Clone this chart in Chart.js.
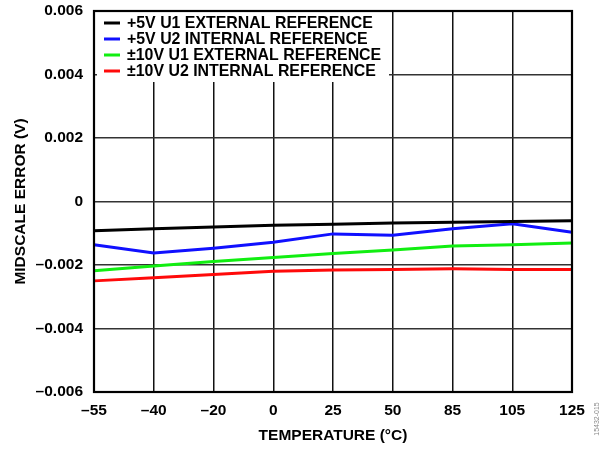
<!DOCTYPE html>
<html>
<head>
<meta charset="utf-8">
<script src="https://cdn.jsdelivr.net/npm/chart.js@4"></script>
<style>
  html, body { margin: 0; padding: 0; background: #fff; }
  #wrap { width: 600px; height: 452px; }
</style>
</head>
<body>
<div id="wrap"><canvas id="c" width="600" height="452"></canvas></div>
<script>
// Temperature categories (°C) and midscale error (V) per configuration
const temperatures = ['–55', '–40', '–20', '0', '25', '50', '85', '105', '125'];
const u1External5V  = [-0.00092, -0.00086, -0.00080, -0.00075, -0.00072, -0.00068, -0.00065, -0.00063, -0.00061];
const u2Internal5V  = [-0.00136, -0.00162, -0.00147, -0.00128, -0.00102, -0.00106, -0.00086, -0.00070, -0.00097];
const u1External10V = [-0.00218, -0.00203, -0.00189, -0.00176, -0.00164, -0.00153, -0.00140, -0.00136, -0.00131];
const u2Internal10V = [-0.00250, -0.00240, -0.00230, -0.00220, -0.00216, -0.00214, -0.00212, -0.00214, -0.00214];

const seriesNames = [
  '+5V U1 EXTERNAL REFERENCE',
  '+5V U2 INTERNAL REFERENCE',
  '±10V U1 EXTERNAL REFERENCE',
  '±10V U2 INTERNAL REFERENCE'
];
const seriesColors = ['#000000', '#1010ff', '#11ee11', '#ff0a0a'];

const yTickValues = [-0.006, -0.004, -0.002, 0, 0.002, 0.004, 0.006];
const yTickLabels = ['–0.006', '–0.004', '–0.002', '0', '0.002', '0.004', '0.006'];

const FONT = 'Liberation Sans, Arial, Helvetica, sans-serif';

// Legend box inside the plot, drawn over the grid
const insetLegend = {
  id: 'insetLegend',
  beforeDatasetsDraw(chart) {
    const { ctx, chartArea } = chart;
    ctx.save();
    ctx.fillStyle = '#fff';
    ctx.fillRect(chartArea.left + 3, chartArea.top, 292, 71);
    ctx.font = 'bold 15.9px ' + FONT;
    ctx.textBaseline = 'middle';
    ctx.textAlign = 'left';
    chart.data.datasets.forEach((ds, i) => {
      const y = chartArea.top + 12 + i * 16;
      ctx.strokeStyle = ds.borderColor;
      ctx.lineWidth = 3;
      ctx.beginPath();
      ctx.moveTo(chartArea.left + 10, y);
      ctx.lineTo(chartArea.left + 26, y);
      ctx.stroke();
      ctx.fillStyle = '#000';
      ctx.fillText(ds.label, chartArea.left + 33, y + 1);
    });
    ctx.restore();
  },
  afterDraw(chart) {
    const { ctx, chartArea } = chart;
    ctx.save();
    ctx.strokeStyle = '#000';
    ctx.lineWidth = 2.2;
    ctx.strokeRect(chartArea.left, chartArea.top, chartArea.right - chartArea.left, chartArea.bottom - chartArea.top);
    // figure number along the right edge
    ctx.translate(597, 419);
    ctx.rotate(-Math.PI / 2);
    ctx.font = '7px ' + FONT;
    ctx.fillStyle = '#8a8a8a';
    ctx.textAlign = 'center';
    ctx.textBaseline = 'middle';
    ctx.fillText('15432-015', 0, 0);
    ctx.restore();
  }
};

const dataSeries = [u1External5V, u2Internal5V, u1External10V, u2Internal10V];

new Chart(document.getElementById('c'), {
  type: 'line',
  data: {
    labels: temperatures,
    datasets: dataSeries.map((vals, i) => ({
      label: seriesNames[i],
      data: vals,
      borderColor: seriesColors[i],
      backgroundColor: seriesColors[i],
      borderWidth: 3,
      pointRadius: 0,
      tension: 0,
      fill: false
    }))
  },
  options: {
    responsive: false,
    animation: false,
    layout: { padding: { left: 0, top: 11, right: 28, bottom: 0 } },
    plugins: { legend: { display: false }, tooltip: { enabled: false } },
    scales: {
      x: {
        offset: false,
        grid: { color: '#111', lineWidth: 1.5, drawTicks: false },
        border: { display: false },
        ticks: {
          color: '#000',
          padding: 9,
          maxRotation: 0,
          autoSkip: false,
          font: { family: FONT, size: 15.5, weight: 'bold' }
        },
        title: {
          display: true,
          text: 'TEMPERATURE (°C)',
          color: '#000',
          padding: { top: 0, bottom: 7 },
          font: { family: FONT, size: 15.5, weight: 'bold' }
        },
        afterFit(scale) { scale.height = 60; }
      },
      y: {
        min: -0.006,
        max: 0.006,
        grid: { color: '#333', lineWidth: 1.5, drawTicks: false },
        border: { display: false },
        afterBuildTicks(scale) { scale.ticks = yTickValues.map(v => ({ value: v })); },
        ticks: {
          color: '#000',
          padding: 11,
          font: { family: FONT, size: 15.5, weight: 'bold' },
          callback(value) {
            let best = 0;
            yTickValues.forEach((v, i) => { if (Math.abs(v - value) < Math.abs(yTickValues[best] - value)) best = i; });
            return yTickLabels[best];
          }
        },
        title: {
          display: true,
          text: 'MIDSCALE ERROR (V)',
          color: '#000',
          padding: { top: 11, bottom: 0 },
          font: { family: FONT, size: 15.5, weight: 'bold' }
        },
        afterFit(scale) {
          scale.width = 94;
          scale.paddingTop = 0;
          scale.paddingBottom = 0;
        }
      }
    }
  },
  plugins: [insetLegend]
});
</script>
</body>
</html>
